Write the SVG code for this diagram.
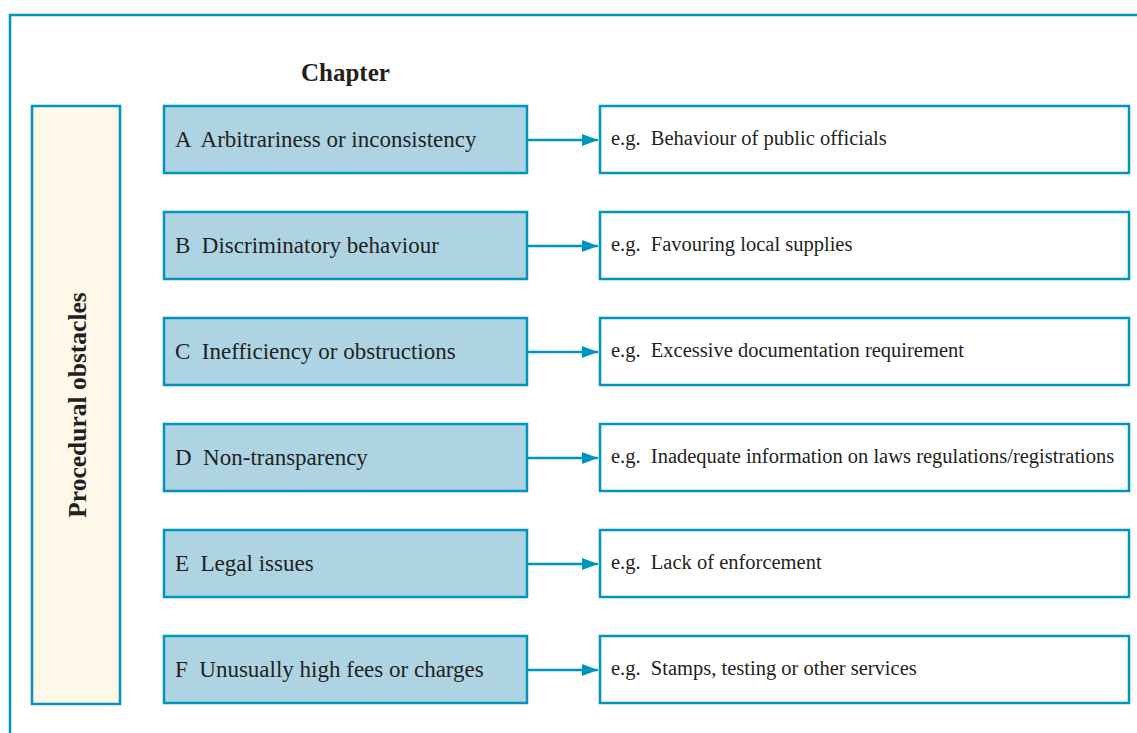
<svg xmlns="http://www.w3.org/2000/svg" width="1137" height="733" viewBox="0 0 1137 733" xml:space="preserve">
<defs>
<style>
.frame{fill:none;stroke:#0095bd;stroke-width:2.5}
.side{fill:#fef8e8;stroke:#0095bd;stroke-width:2.5}
.cat{fill:#aed4e4;stroke:#0095bd;stroke-width:2.5}
.ex{fill:#ffffff;stroke:#0095bd;stroke-width:2.5}
.conn{fill:none;stroke:#0095bd;stroke-width:2.5}
text{font-family:"Liberation Serif","Times New Roman",serif;fill:#231f20;white-space:pre}
.ct{font-size:23px}
.et{font-size:20.5px}
.hd{font-size:25px;font-weight:bold}
.vt{font-size:25.5px;font-weight:bold}
</style>
<marker id="arr" markerWidth="16" markerHeight="12" refX="16" refY="6" orient="auto" markerUnits="userSpaceOnUse">
<path d="M0,0 L16,6 L0,12 Z" fill="#0095bd"/>
</marker>
</defs>
<rect width="1137" height="733" fill="#ffffff"/>
<path class="frame" d="M10,733 L10,15 L1137,15"/>
<g id="title"><text class="hd" x="301" y="81">Chapter</text></g>
<g id="procedural"><rect class="side" x="32" y="106" width="88" height="598"/>
<text class="vt" transform="translate(86,405) rotate(-90)" text-anchor="middle">Procedural obstacles</text></g>
<g id="nodeA"><rect class="cat" x="164" y="106" width="363" height="67"/><text class="ct" x="175" y="147">A  Arbitrariness or inconsistency</text></g>
<g id="nodeB"><rect class="cat" x="164" y="212" width="363" height="67"/><text class="ct" x="175" y="253">B  Discriminatory behaviour</text></g>
<g id="nodeC"><rect class="cat" x="164" y="318" width="363" height="67"/><text class="ct" x="175" y="359">C  Inefficiency or obstructions</text></g>
<g id="nodeD"><rect class="cat" x="164" y="424" width="363" height="67"/><text class="ct" x="175" y="465">D  Non-transparency</text></g>
<g id="nodeE"><rect class="cat" x="164" y="530" width="363" height="67"/><text class="ct" x="175" y="571">E  Legal issues</text></g>
<g id="nodeF"><rect class="cat" x="164" y="636" width="363" height="67"/><text class="ct" x="175" y="677">F  Unusually high fees or charges</text></g>
<g id="exA"><rect class="ex" x="600" y="106" width="529" height="67"/><text class="et" x="611" y="145">e.g.  Behaviour of public officials</text></g>
<g id="exB"><rect class="ex" x="600" y="212" width="529" height="67"/><text class="et" x="611" y="251">e.g.  Favouring local supplies</text></g>
<g id="exC"><rect class="ex" x="600" y="318" width="529" height="67"/><text class="et" x="611" y="357">e.g.  Excessive documentation requirement</text></g>
<g id="exD"><rect class="ex" x="600" y="424" width="529" height="67"/><text class="et" x="611" y="463">e.g.  Inadequate information on laws regulations/registrations</text></g>
<g id="exE"><rect class="ex" x="600" y="530" width="529" height="67"/><text class="et" x="611" y="569">e.g.  Lack of enforcement</text></g>
<g id="exF"><rect class="ex" x="600" y="636" width="529" height="67"/><text class="et" x="611" y="675">e.g.  Stamps, testing or other services</text></g>
<g id="connectors">
<line class="conn" x1="528" y1="140" x2="598" y2="140" marker-end="url(#arr)"/>
<line class="conn" x1="528" y1="246" x2="598" y2="246" marker-end="url(#arr)"/>
<line class="conn" x1="528" y1="352" x2="598" y2="352" marker-end="url(#arr)"/>
<line class="conn" x1="528" y1="458" x2="598" y2="458" marker-end="url(#arr)"/>
<line class="conn" x1="528" y1="564" x2="598" y2="564" marker-end="url(#arr)"/>
<line class="conn" x1="528" y1="670" x2="598" y2="670" marker-end="url(#arr)"/>
</g>
</svg>
